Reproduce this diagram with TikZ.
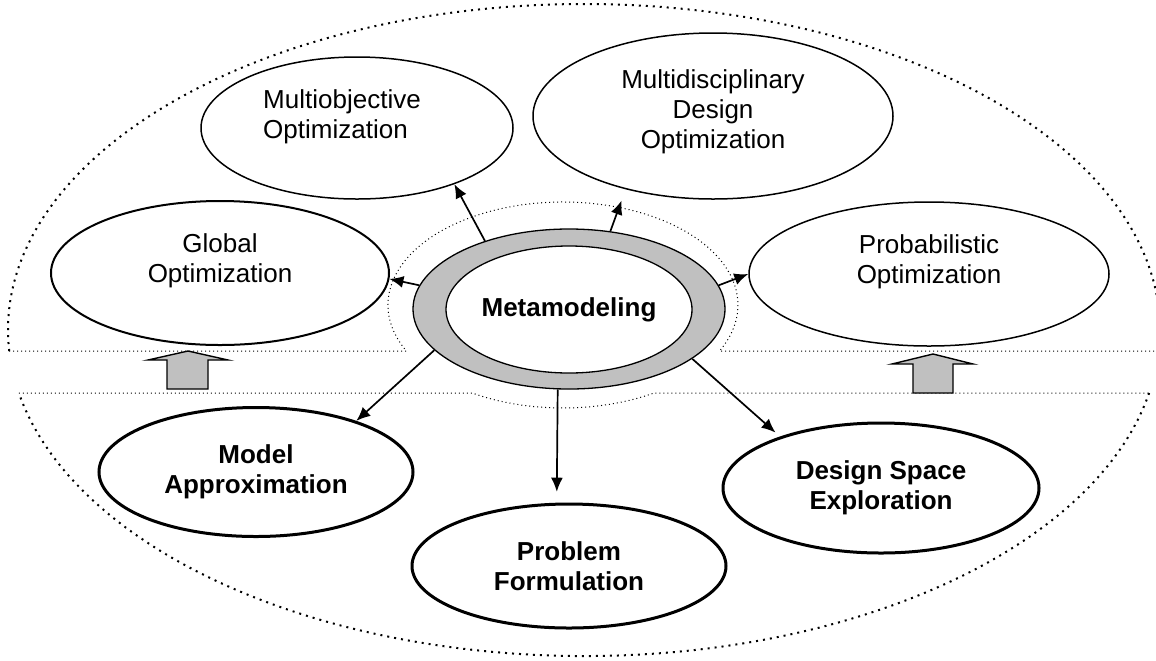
\documentclass[tikz,border=0pt]{standalone}
\usepackage{fontspec}
\setmainfont{Liberation Sans}
\definecolor{silver}{HTML}{C0C0C0}
\usetikzlibrary{shapes.geometric,arrows.meta}

\begin{document}
\begin{tikzpicture}[x=0.5pt,y=0.5pt,every node/.style={font=\fontsize{13}{15}\selectfont,align=center},
      bub/.style={ellipse,draw,fill=white,line width=0.75pt,inner sep=0pt},
      goal/.style={bub},
      task/.style={bub,line width=1.5pt,font=\fontsize{13}{15}\selectfont\bfseries},
      link/.style={-{Latex[length=7pt,width=6pt]},line width=0.85pt},
      bigdots/.style={line width=1pt,dash pattern=on 1pt off 2.5pt},
      finedots/.style={line width=0.5pt,dash pattern=on 0.5pt off 1.5pt},
      lift/.style={draw,fill=silver,line width=0.7pt,line join=miter}]
    \useasboundingbox (0,0) rectangle (1156,-660);
    % dotted regions
    \draw[bigdots] (584,-330) ++(183.69:576 and 326) arc[start angle=183.69,end angle=-3.69,x radius=576,y radius=326];
    \draw[bigdots] (584,-330) ++(-11.14:576 and 326) arc[start angle=-11.14,end angle=-168.86,x radius=576,y radius=326];
    \draw[finedots] (9.2,-351) -- (406.4,-351) arc[start angle=206.53,end angle=-26.53,x radius=175,y radius=103] -- (1160,-351);
    \draw[finedots] (18.8,-393) -- (472.1,-393) arc[start angle=238.69,end angle=301.31,x radius=175,y radius=103] -- (1149.2,-393);
    \draw[lift] (188,-351) -- (228,-360) -- (208,-360) -- (208,-389) -- (167,-389) -- (167,-360) -- (148,-360) -- cycle;
    \draw[lift] (933,-354) -- (973,-364) -- (953,-364) -- (953,-393) -- (913,-393) -- (913,-364) -- (892,-364) -- cycle;
    % upper ellipses
    \node[goal,align=left,minimum width=156pt,minimum height=71pt,text depth=14pt] (mobj) at (357,-128) {Multiobjective\hspace*{15pt}\\Optimization};
    \node[goal,minimum width=180pt,minimum height=83pt,text depth=7pt] (mdo) at (713,-116) {Multidisciplinary\\Design\\Optimization};
    \node[goal,line width=1pt,minimum width=169pt,minimum height=72pt,text depth=15pt] (glob) at (220,-273) {Global\\Optimization};
    \node[goal,minimum width=180pt,minimum height=72pt,text depth=15pt] (prob) at (929,-274) {Probabilistic\\Optimization};
    % centre
    \node[bub,fill=silver,line width=0.65pt,minimum width=156pt,minimum height=80pt] (ring) at (569,-309) {};
    \node[bub,line width=0.65pt,inner xsep=-6pt,minimum width=123pt,minimum height=63.5pt,font=\fontsize{13}{15}\selectfont\bfseries] (meta) at (569,-309.5) {Metamodeling};
    % lower ellipses
    \node[task,minimum width=157pt,minimum height=64.5pt] (model) at (256,-472) {Model\\Approximation};
    \node[task,minimum width=157pt,minimum height=62pt] (form) at (569,-566) {Problem\\Formulation};
    \node[task,minimum width=158pt,minimum height=65pt] (dse) at (881,-488) {Design Space\\Exploration};
    \draw[link] (ring.141) -- (mobj.-30);
    \draw[link,shorten >=6pt] (ring.62) -- (mdo.-140);
    \draw[link] (ring.171) -- (glob.-2);
    \draw[link] (ring.9) -- (prob.west);
    \draw[link] (ring.197) -- (model.27);
    \draw[link,shorten >=5.5pt] (ring.-98.5) -- (form.101);
    \draw[link,shorten >=3pt] (ring.-22) -- (dse.153);
  \end{tikzpicture}
\end{document}
